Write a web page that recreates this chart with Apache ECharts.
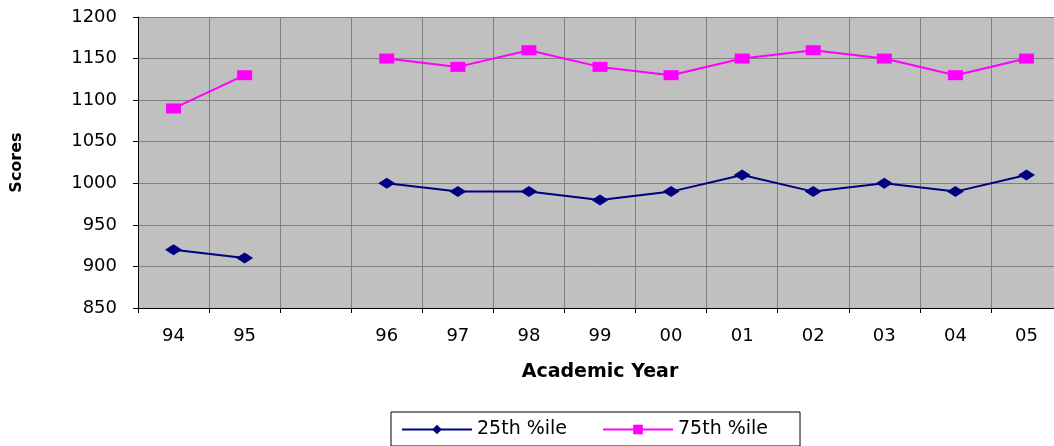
<!DOCTYPE html>
<html>
<head>
<meta charset="utf-8">
<script src="https://cdn.jsdelivr.net/npm/echarts@6/dist/echarts.min.js"></script>
<style>
html,body{margin:0;padding:0;background:#fff;}
#chart{width:1054px;height:446px;}
</style>
</head>
<body>
<div id="chart"></div>
<script>
const categories = ['94', '95', '', '96', '97', '98', '99', '00', '01', '02', '03', '04', '05'];
const p25 = [920, 910, null, 1000, 990, 990, 980, 990, 1010, 990, 1000, 990, 1010];
const p75 = [1090, 1130, null, 1150, 1140, 1160, 1140, 1130, 1150, 1160, 1150, 1130, 1150];
const seriesNames = ['25th %ile', '75th %ile'];
const yMin = 850, yMax = 1200, yStep = 50;

const FONT = 'DejaVu Sans';
const chart = echarts.init(document.getElementById('chart'), null, {renderer: 'canvas'});
chart.setOption({
  animation: false,
  backgroundColor: '#ffffff',
  textStyle: {fontFamily: FONT},
  grid: {
    left: 138, top: 17, right: -8, bottom: 138,
    show: true, backgroundColor: '#c0c0c0', borderWidth: 0,
    containLabel: false, outerBoundsMode: 'none'
  },
  legend: {
    left: 391, top: 412,
    data: seriesNames,
    orient: 'horizontal',
    backgroundColor: '#ffffff',
    borderColor: '#000000', borderWidth: 1, borderRadius: 0,
    padding: [8, 32, 7, 10],
    itemWidth: 70, itemHeight: 12, itemGap: 35,
    textStyle: {fontFamily: FONT, fontSize: 19, color: '#000'}
  },
  xAxis: {
    type: 'category',
    data: categories,
    boundaryGap: true,
    name: 'Academic Year',
    nameLocation: 'middle',
    nameGap: 55,
    nameTextStyle: {fontFamily: FONT, fontSize: 19, fontWeight: 'bold', color: '#000'},
    axisLine: {show: true, lineStyle: {color: '#000', width: 1}},
    axisTick: {show: true, length: 5, lineStyle: {color: '#000'}},
    axisLabel: {fontFamily: FONT, fontSize: 18, color: '#000', margin: 19, interval: 0},
    splitLine: {show: true, interval: 0, lineStyle: {color: '#808080', width: 1}}
  },
  yAxis: {
    type: 'value',
    min: yMin, max: yMax, interval: yStep,
    name: 'Scores',
    nameLocation: 'middle',
    nameRotate: 90,
    nameGap: 113,
    nameTextStyle: {fontFamily: FONT, fontSize: 16, fontWeight: 'bold', color: '#000'},
    axisLine: {show: true, lineStyle: {color: '#000', width: 1}},
    axisTick: {show: true, length: 5, lineStyle: {color: '#000'}},
    axisLabel: {fontFamily: FONT, fontSize: 18, color: '#000', margin: 21, formatter: function (v) { return String(v); }},
    splitLine: {show: true, lineStyle: {color: '#808080', width: 1}}
  },
  series: [
    {
      name: seriesNames[0], type: 'line', data: p25,
      connectNulls: false,
      symbol: 'diamond', symbolSize: [17, 11],
      lineStyle: {color: '#000080', width: 2},
      itemStyle: {color: '#000080'}
    },
    {
      name: seriesNames[1], type: 'line', data: p75,
      connectNulls: false,
      symbol: 'rect', symbolSize: [15, 10],
      lineStyle: {color: '#ff00ff', width: 2},
      itemStyle: {color: '#ff00ff'}
    }
  ]
});
</script>
</body>
</html>
